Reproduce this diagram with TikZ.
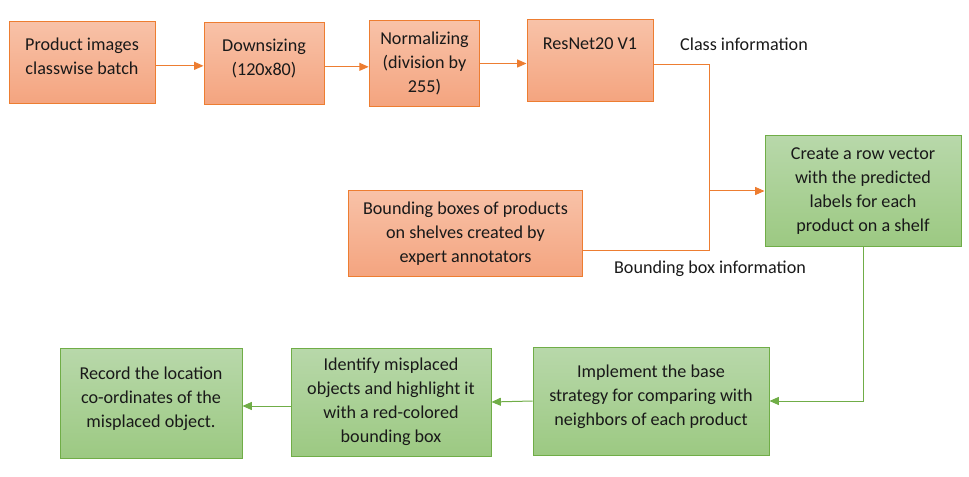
\documentclass[tikz,border=0pt]{standalone}
\usepackage{fontspec}
\setmainfont{Carlito}
\usetikzlibrary{arrows.meta}
\definecolor{orline}{HTML}{ED7D31}
\definecolor{ortop}{HTML}{F8C2A8}
\definecolor{orbot}{HTML}{F4A47F}
\definecolor{grline}{HTML}{70AD47}
\definecolor{grtop}{HTML}{B8D8AA}
\definecolor{grbot}{HTML}{9CC982}
\begin{document}
\begin{tikzpicture}[x=0.75pt,y=-0.75pt,
  font=\fontsize{13.6pt}{18pt}\selectfont, text=black!90,
  obox/.style={draw=orline, line width=0.75pt, top color=ortop, bottom color=orbot, align=center, inner sep=2pt},
  gbox/.style={draw=grline, line width=0.75pt, top color=grtop, bottom color=grbot, align=center, inner sep=2pt},
  oarr/.style={draw=orline, line width=0.75pt, -{Triangle[length=7pt,width=6pt]}},
  garr/.style={draw=grline, line width=0.75pt, -{Triangle[length=7pt,width=6pt]}}]
\useasboundingbox (0,0) rectangle (969,477);

% top row
\node[obox, minimum width=109.5pt, minimum height=62pt] (prod) at (82,62.5) {Product images\\classwise batch\\[-9pt]};
\node[obox, minimum width=90pt, minimum height=62pt] (down) at (264,63.5) {Downsizing\\(120x80)\\[-9pt]};
\node[obox, minimum width=83pt, minimum height=64pt] (norm) at (424.5,63.5) {Normalizing\\(division by\\255)};
\node[obox, minimum width=94.5pt, minimum height=61.5pt] (resnet) at (590,61) {ResNet20 V1\\[7.5pt]};

\draw[oarr] ([yshift=-2.5pt]prod.east) -- ([yshift=-2.5pt]prod.east -| down.west);
\draw[oarr] ([yshift=-2.5pt]down.east) -- ([yshift=-2.5pt]down.east -| norm.west);
\draw[oarr] (norm.east) -- (norm.east -| resnet.west);

\node[obox, minimum width=176pt, minimum height=65pt] (bbox) at (465.5,233.5) {Bounding boxes of products\\on shelves created by\\expert annotators};
\node[gbox, minimum width=147pt, minimum height=82.5pt] (create) at (863,191) {Create a row vector\\with the predicted\\labels for each\\product on a shelf};

\coordinate (join) at (709,191);
\draw[orline, line width=0.75pt] ([yshift=-3pt]resnet.east) -| (join);
\draw[orline, line width=0.75pt] ([yshift=-13pt]bbox.east) -| (join);
\draw[oarr] (join) -- (create.west);

\node (classinfo) at (744,44) {Class information};
\node (bboxinfo) at (710,269) {Bounding box information};

% bottom row
\node[gbox, minimum width=177pt, minimum height=81pt] (impl) at (651,401) {Implement the base\\strategy for comparing with\\neighbors of each product\\[-9pt]};
\node[gbox, minimum width=150pt, minimum height=81pt] (ident) at (391,402) {Identify misplaced\\objects and highlight it\\with a red-colored\\bounding box};
\node[gbox, minimum width=136.5pt, minimum height=82pt] (record) at (151,403.5) {Record the location\\co-ordinates of the\\misplaced object.\\[-8pt]};

\draw[garr] (create.south) |- (impl.east);
\draw[garr] (impl.west) -- (ident.east);
\draw[garr] ([yshift=-3pt]ident.west) -- ([yshift=-3pt]ident.west -| record.east);
\end{tikzpicture}
\end{document}
